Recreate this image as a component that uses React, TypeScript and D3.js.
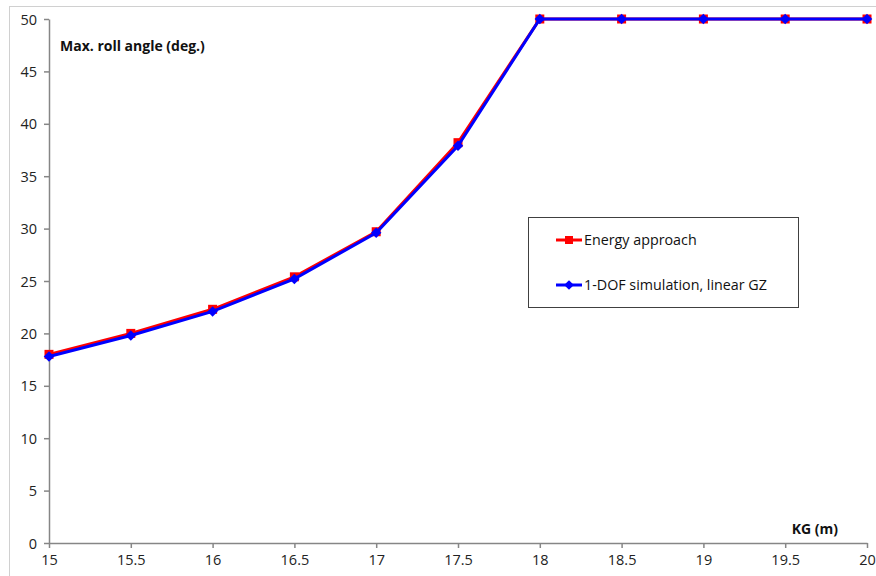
import React, { useEffect, useRef } from "react";
import * as d3 from "d3";

const kg = [15, 15.5, 16, 16.5, 17, 17.5, 18, 18.5, 19, 19.5, 20];
const energy = [18.0, 20.0, 22.3, 25.4, 29.7, 38.2, 50, 50, 50, 50, 50];
const dof = [17.8, 19.8, 22.1, 25.2, 29.6, 37.9, 50, 50, 50, 50, 50];
const xTicks = [15, 15.5, 16, 16.5, 17, 17.5, 18, 18.5, 19, 19.5, 20];
const yTicks = [0, 5, 10, 15, 20, 25, 30, 35, 40, 45, 50];
const seriesNames = ["Energy approach", "1-DOF simulation, linear GZ"];

const W = 876, H = 576;
const FONT = "'Open Sans', 'Noto Sans', sans-serif";

export default function App() {
  const ref = useRef<SVGSVGElement>(null);
  useEffect(() => {
    const svg = d3.select(ref.current);
    svg.selectAll("*").remove();
    const x = d3.scaleLinear().domain([15, 20]).range([49, 867]);
    const y = d3.scaleLinear().domain([0, 50]).range([543, 19]);

    // frame
    svg.append("rect").attr("x", 9.5).attr("y", 6.5).attr("width", W + 20).attr("height", H + 20)
      .attr("fill", "white").attr("stroke", "#d0d0d0");

    const axisColor = "#868686";
    const xa = svg.append("g").attr("transform", `translate(0,${y(0)})`)
      .call(d3.axisBottom(x).tickValues(xTicks).tickSize(5).tickSizeOuter(0).tickFormat((d) => String(d)));
    xa.select(".domain").attr("stroke", axisColor).attr("stroke-width", 1.5);
    xa.selectAll("line").attr("stroke", axisColor).attr("stroke-width", 1.5);
    xa.selectAll("text").attr("font-family", FONT).attr("font-size", 14.5).attr("fill", "#222").attr("dy", "0.95em");

    const ya = svg.append("g").attr("transform", `translate(${x(15)},0)`)
      .call(d3.axisLeft(y).tickValues(yTicks).tickSize(5).tickSizeOuter(0).tickFormat((d) => String(d)));
    ya.select(".domain").attr("stroke", axisColor).attr("stroke-width", 1.5);
    ya.selectAll("line").attr("stroke", axisColor).attr("stroke-width", 1.5);
    ya.selectAll("text").attr("font-family", FONT).attr("font-size", 14.5).attr("fill", "#222").attr("x", -12).attr("dy", "0.35em");

    const line = d3.line<number>().x((_, i) => x(kg[i])).y((d) => y(d));

    // Energy approach (red)
    svg.append("path").datum(energy).attr("d", line).attr("fill", "none")
      .attr("stroke", "#ff0000").attr("stroke-width", 3);
    svg.append("g").selectAll("rect").data(energy).join("rect")
      .attr("x", (_, i) => x(kg[i]) - 4.5).attr("y", (d) => y(d) - 4.5)
      .attr("width", 9).attr("height", 9).attr("fill", "#ff0000");

    // 1-DOF (blue)
    svg.append("path").datum(dof).attr("d", line).attr("fill", "none")
      .attr("stroke", "#0000ff").attr("stroke-width", 3);
    const diamond = d3.symbol().type(d3.symbolDiamond2).size(70);
    svg.append("g").selectAll("path").data(dof).join("path")
      .attr("d", diamond).attr("transform", (d, i) => `translate(${x(kg[i])},${y(d)})`)
      .attr("fill", "#0000ff");

    // axis titles
    svg.append("text").attr("x", 60).attr("y", 51).text("Max. roll angle (deg.)")
      .attr("font-family", FONT).attr("font-size", 14).attr("font-weight", "bold").attr("fill", "#111");
    svg.append("text").attr("x", 838).attr("y", 534).attr("text-anchor", "end").text("KG (m)")
      .attr("font-family", FONT).attr("font-size", 14).attr("font-weight", "bold").attr("fill", "#111");

    // legend
    const lg = svg.append("g");
    lg.append("rect").attr("x", 528.5).attr("y", 217.5).attr("width", 270).attr("height", 90)
      .attr("fill", "white").attr("stroke", "#404040").attr("stroke-width", 1);
    const colors = ["#ff0000", "#0000ff"];
    const ys = [240, 285];
    seriesNames.forEach((name, i) => {
      lg.append("line").attr("x1", 556).attr("x2", 582).attr("y1", ys[i]).attr("y2", ys[i])
        .attr("stroke", colors[i]).attr("stroke-width", 3);
      if (i === 0) {
        lg.append("rect").attr("x", 565).attr("y", ys[i] - 4).attr("width", 8).attr("height", 8).attr("fill", colors[i]);
      } else {
        lg.append("path").attr("d", d3.symbol().type(d3.symbolDiamond2).size(60)).attr("transform", `translate(569,${ys[i]})`).attr("fill", colors[i]);
      }
      lg.append("text").attr("x", 584).attr("y", ys[i]).attr("dy", "0.35em").text(name)
        .attr("font-family", FONT).attr("font-size", 14.3).attr("fill", "#111");
    });
  }, []);
  return (
    <svg ref={ref} width={W} height={H} style={{ position: "absolute", left: 0, top: 0, background: "white" }} />
  );
}
